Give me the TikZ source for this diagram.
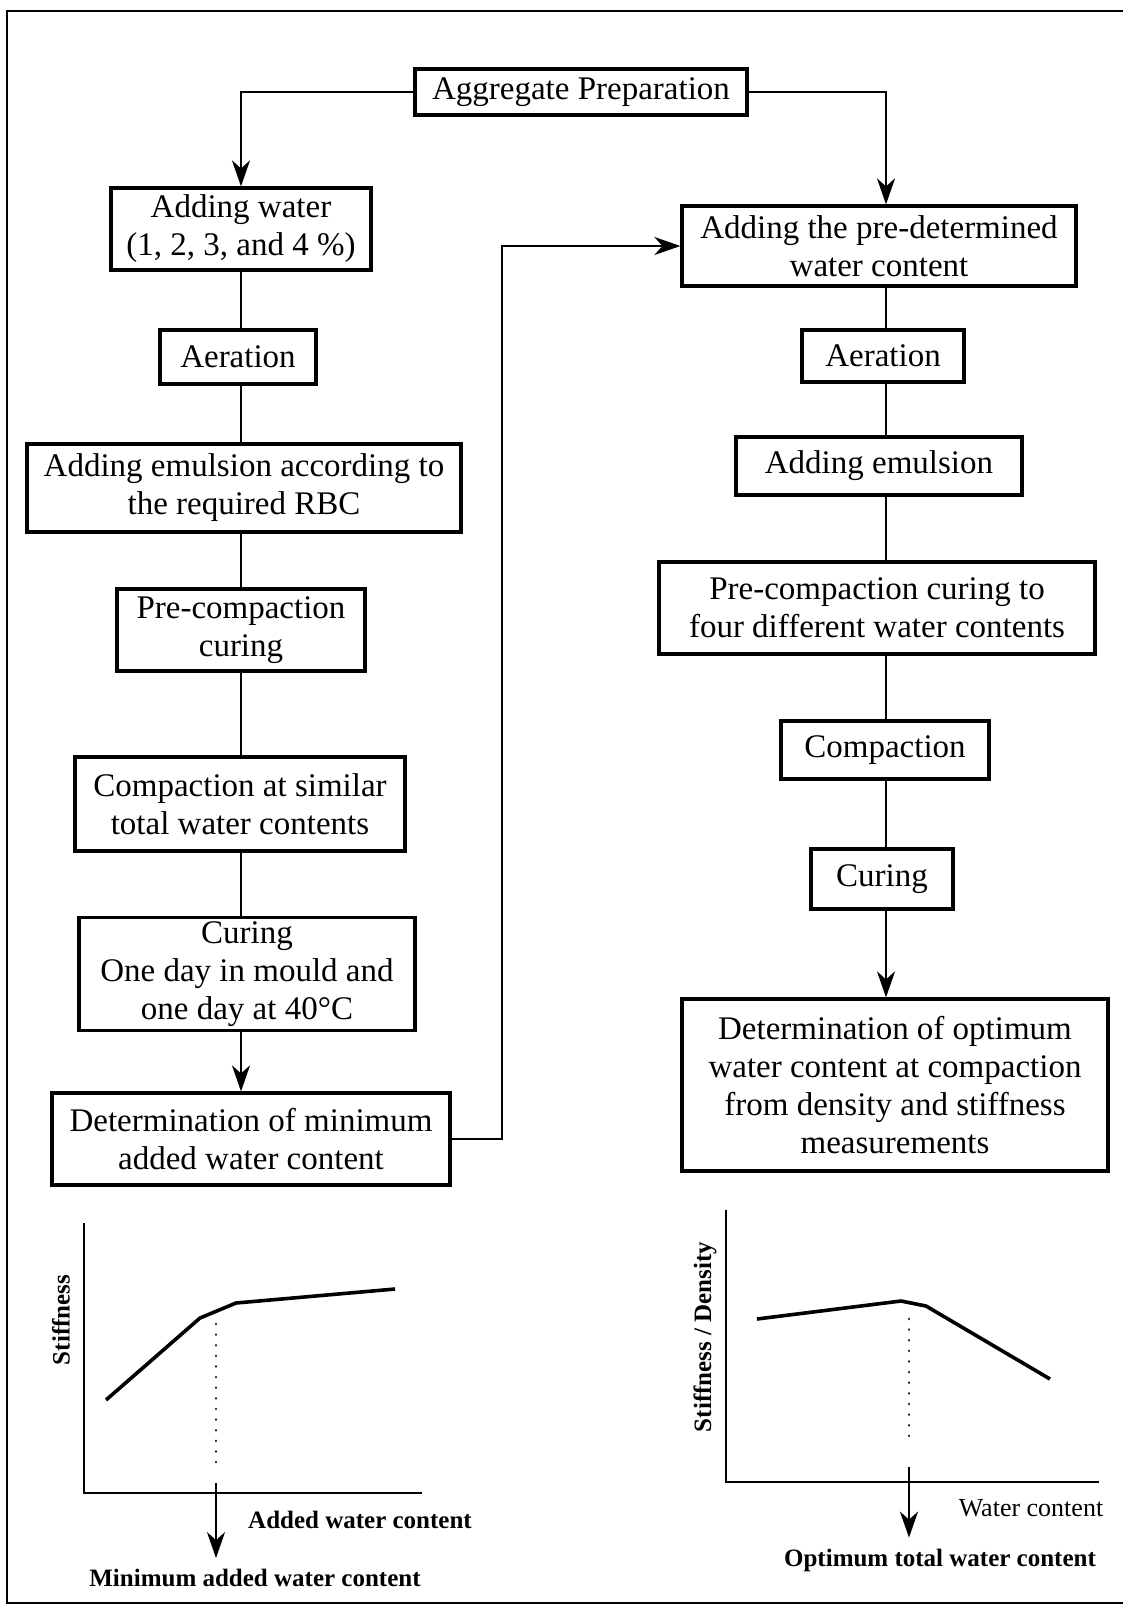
\documentclass[tikz,border=0pt]{standalone}
\usepackage{fontspec}
\setmainfont{Liberation Serif}
\usetikzlibrary{arrows.meta}

\begin{document}
\begin{tikzpicture}[x=0.5pt, y=-0.5pt,
  box/.style={draw, line width=1.6pt, align=center, inner sep=2pt,
    font=\fontsize{16.5}{19}\selectfont},
  link/.style={line width=1.2pt},
  arrow/.style={line width=1.2pt, -{Stealth[length=13pt, width=9pt, inset=4pt]}},
  axis/.style={line width=1pt},
  curve/.style={line width=1.8pt, line join=round},
  guide/.style={line width=1.4pt, line cap=round, dash pattern=on 0.01pt off 5.3pt},
  glabel/.style={font=\fontsize{12.5}{14}\selectfont\bfseries}]
\useasboundingbox (0,0) rectangle (1123,1607);
\draw[line width=1.3pt] (1123,11) -- (7,11) -- (7,1603) -- (1123,1603);

\coordinate (lc) at (241,0);
\coordinate (rc) at (886,0);
\coordinate (turn) at (502,0);

\node[box, minimum width=166pt, minimum height=23pt] (prep) at (581,92) {Aggregate Preparation};

\node[box, minimum width=130pt, minimum height=41pt] (water) at (241,229) {Adding water\\(1, 2, 3, and 4 \%)};
\node[box, minimum width=78pt, minimum height=27pt] (aer1) at (238,357) {Aeration};
\node[box, minimum width=217pt, minimum height=44pt] (emul1) at (244,488) {Adding emulsion according to\\the required RBC};
\node[box, minimum width=124pt, minimum height=41pt] (precomp1) at (241,630) {Pre-compaction\\curing};
\node[box, minimum width=165pt, minimum height=47pt] (compact1) at (240,804) {Compaction at similar\\total water contents};
\node[box, minimum width=168pt, minimum height=55pt] (curing1) at (247,974) {Curing\\One day in mould and\\one day at 40°C};
\node[box, minimum width=199pt, minimum height=46pt] (mindet) at (251,1139) {Determination of minimum\\added water content};

\node[box, minimum width=197pt, minimum height=40pt] (predet) at (879,246) {Adding the pre-determined\\water content};
\node[box, minimum width=81pt, minimum height=26pt] (aer2) at (883,356) {Aeration};
\node[box, minimum width=143pt, minimum height=29pt] (emul2) at (879,466) {Adding emulsion};
\node[box, minimum width=218pt, minimum height=46pt] (precomp2) at (877,608) {Pre-compaction curing to\\four different water contents};
\node[box, minimum width=104pt, minimum height=29pt] (compact2) at (885,750) {Compaction};
\node[box, minimum width=71pt, minimum height=30pt] (curing2) at (882,879) {Curing};
\node[box, minimum width=213pt, minimum height=86pt] (optdet) at (895,1085) {Determination of optimum\\water content at compaction\\from density and stiffness\\measurements};

\draw[arrow] (prep.west) -| (water.north -| lc);
\draw[arrow] (prep.east) -| (predet.north -| rc);
\foreach \from/\to in {water/aer1,aer1/emul1,emul1/precomp1,precomp1/compact1,compact1/curing1}
  \draw[link] (\from.south -| lc) -- (\to.north -| lc);
\draw[arrow] (curing1.south -| lc) -- (mindet.north -| lc);
\draw[arrow] (mindet.east) -| (turn |- predet.west) -- (predet.west);
\foreach \from/\to in {predet/aer2,aer2/emul2,emul2/precomp2,precomp2/compact2,compact2/curing2}
  \draw[link] (\from.south -| rc) -- (\to.north -| rc);
\draw[arrow] (curing2.south -| rc) -- (optdet.north -| rc);

% left graph
\coordinate (lo) at (84,1493);
\coordinate (lk) at (216,1318);
\draw[axis] (84,1223) -- (lo) -- (422,1493);
\draw[curve] (106,1400) -- (200,1318) -- (236,1303) -- (395,1289);
\draw[guide] ([yshift=-3pt]lk) -- (216,1472);
\node[glabel, rotate=90] (stiff) at (61,1320) {Stiffness};
\node[glabel] (addx) at (360,1520) {Added water content};
\node[glabel] (minlab) at (255,1578) {Minimum added water content};
\draw[arrow] (216,1483) -- ([yshift=2pt]minlab.north -| lk);

% right graph
\coordinate (ro) at (726,1482);
\coordinate (rk) at (909,1313);
\draw[axis] (726,1210) -- (ro) -- (1099,1482);
\draw[curve] (757,1319) -- (901,1301) -- (926,1306) -- (1050,1379);
\draw[guide] ([yshift=-3pt]rk) -- (909,1445);
\node[glabel, rotate=90] (sdlab) at (705,1337) {Stiffness / Density};
\node[font=\fontsize{13}{15}\selectfont] (wclab) at (1031,1508) {Water content};
\node[glabel] (optlab) at (940,1560) {Optimum total water content};
\draw[arrow] (909,1467) -- ([yshift=2pt]optlab.north -| rk);
\end{tikzpicture}
\end{document}
